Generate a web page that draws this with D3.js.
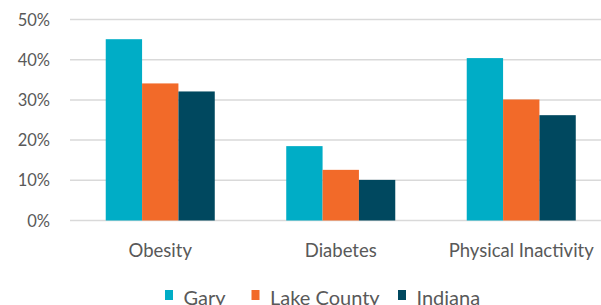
<!DOCTYPE html>
<html>
<head>
<meta charset="utf-8">
<script src="https://cdn.jsdelivr.net/npm/d3@7"></script>
<style>
  body { margin: 0; background: #fff; }
  text { font-family: "Lato", "Open Sans", sans-serif; fill: #595959; }
</style>
</head>
<body>
<div id="chart"></div>
<script>
// Data
const categories = ["Obesity", "Diabetes", "Physical Inactivity"];
const seriesNames = ["Gary", "Lake County", "Indiana"];
const gary = [45.1, 18.5, 40.4];
const lakeCounty = [34.1, 12.6, 30.1];
const indiana = [32.1, 10.1, 26.2];
const yTicks = [0, 10, 20, 30, 40, 50];
const colors = ["#00adc6", "#f26a29", "#00485f"];

const seriesValues = [gary, lakeCounty, indiana];

const width = 601, height = 305;

const svg = d3.select("#chart")
    .append("svg")
    .attr("width", width)
    .attr("height", height);

// Scales
const x0 = d3.scaleBand().domain(categories).range([70, 611.5])
    .paddingInner(0.396).paddingOuter(0.198);
const x1 = d3.scaleBand().domain(seriesNames).range([0, x0.bandwidth()]);
const y = d3.scaleLinear().domain([0, 50]).range([220.5, 19.5]);

// Gridlines
svg.append("g")
    .selectAll("line")
    .data(yTicks)
    .join("line")
    .attr("x1", 70)
    .attr("x2", width)
    .attr("y1", d => y(d))
    .attr("y2", d => y(d))
    .attr("stroke", "#d9d9d9")
    .attr("stroke-width", 1.5);

// Y labels
svg.append("g")
    .selectAll("text")
    .data(yTicks)
    .join("text")
    .attr("x", 50)
    .attr("y", d => y(d) + 6)
    .attr("text-anchor", "end")
    .style("font-size", "16.5px")
    .text(d => d + "%");

// Bars
const groups = svg.append("g")
    .selectAll("g")
    .data(categories)
    .join("g")
    .attr("transform", d => `translate(${x0(d)},0)`);

groups.selectAll("rect")
    .data((d, i) => seriesNames.map((s, j) => ({ s, v: seriesValues[j][i], c: colors[j] })))
    .join("rect")
    .attr("x", d => x1(d.s))
    .attr("width", x1.bandwidth())
    .attr("y", d => y(d.v))
    .attr("height", d => y(0) - y(d.v))
    .attr("fill", d => d.c);

// Category labels
svg.append("g")
    .selectAll("text")
    .data(categories)
    .join("text")
    .attr("x", d => x0(d) + x0.bandwidth() / 2)
    .attr("y", 257)
    .attr("text-anchor", "middle")
    .style("font-size", "18.5px")
    .text(d => d);

// Legend
const legendX = [165, 251.5, 398];
const legend = svg.append("g")
    .selectAll("g")
    .data(seriesNames)
    .join("g")
    .attr("transform", (d, i) => `translate(${legendX[i]},0)`);

legend.append("rect")
    .attr("x", 0)
    .attr("y", 290)
    .attr("width", 8)
    .attr("height", 10)
    .attr("fill", (d, i) => colors[i]);

legend.append("text")
    .attr("x", 18.5)
    .attr("y", 305)
    .style("font-size", "20px")
    .text(d => d);
</script>
</body>
</html>
